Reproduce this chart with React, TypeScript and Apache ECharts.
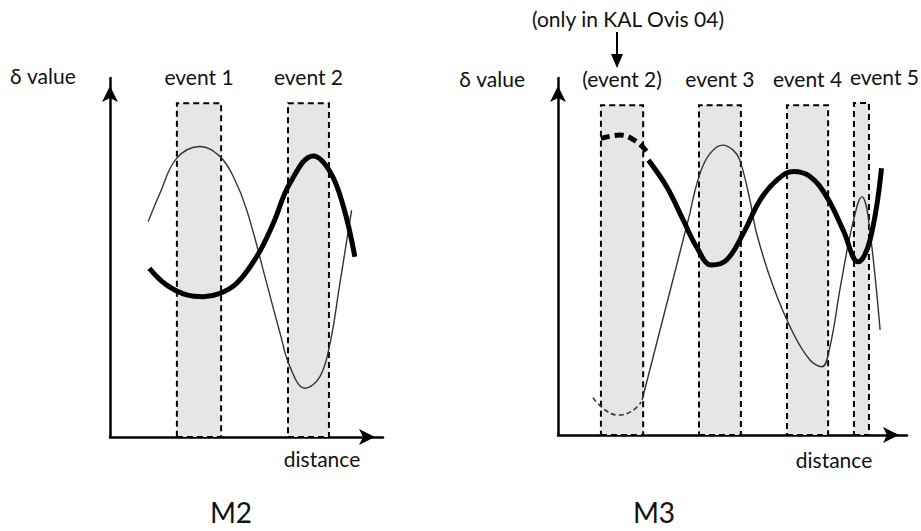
import React, { useEffect, useRef } from "react";
import * as echarts from "echarts";

// ---- Panel M2 (left) ----
const leftThinX = [14.0, 18.3, 24.4, 33.0, 40.3, 45.2, 50.1, 57.4, 62.3, 65.9, 71.4, 76.9, 80.6, 84.2, 88.5];
const leftThinY = [60.0, 67.9, 77.6, 80.9, 78.1, 72.5, 63.2, 42.8, 28.9, 19.6, 13.6, 16.8, 26.1, 42.8, 63.2];
const leftThickX = [14.4, 20.8, 28.1, 34.2, 40.3, 46.4, 53.7, 59.8, 65.9, 74.5, 80.6, 85.5, 89.7];
const leftThickY = [47.0, 42.3, 39.6, 39.1, 40.0, 42.8, 50.2, 59.5, 70.7, 78.3, 73.9, 64.2, 50.2];
const leftEvents = ["event 1", "event 2"];
const leftEventStart = [24.5, 65.2];
const leftEventEnd = [40.7, 80.2];
const leftEventTop = [93, 93];

// ---- Panel M3 (right) ----
const rightThickDashX = [12.3, 17.8, 22.5, 25.4];
const rightThickDashY = [83.1, 84.0, 82.2, 79.4];
const rightThickX = [25.9, 31.1, 35.9, 39.7, 44.0, 48.3, 53.1, 57.9, 62.7, 67.4, 72.2, 77.0, 81.7, 86.0, 89.4, 92.7];
const rightThickY = [77.0, 69.6, 60.2, 52.7, 47.6, 49.0, 56.5, 65.8, 71.4, 73.8, 72.4, 66.7, 57.4, 48.5, 54.6, 74.7];
const rightThinDashX = [10.0, 13.5, 17.2, 21.2, 23.8];
const rightThinDashY = [10.4, 7.0, 5.6, 6.7, 9.2];
const rightThinStraightX = [24.1, 37.8];
const rightThinStraightY = [9.8, 62.1];
const rightThinX = [37.8, 40.7, 43.6, 47.2, 50.2, 52.1, 55.0, 56.9, 61.7, 67.4, 72.2, 75.6, 77.9, 81.0, 84.5, 87.1, 88.8, 92.3];
const rightThinY = [62.1, 73.3, 78.9, 81.2, 79.8, 77.0, 65.8, 56.5, 41.5, 28.5, 21.0, 19.1, 24.6, 42.0, 59.4, 66.7, 61.6, 29.4];
const rightEvents = ["(event 2)", "event 3", "event 4", "event 5"];
const rightEventStart = [12.3, 40.4, 65.6, 84.8];
const rightEventEnd = [24.4, 52.4, 77.4, 89.1];
const rightEventTop = [92.4, 92.4, 92.4, 93.0];

const panelTitles = ["M2", "M3"];
const yName = "δ value";
const xName = "distance";
const note = "(only in KAL Ovis 04)";

const FONT = "Lato, 'Open Sans', sans-serif";
const zip = (xs: number[], ys: number[]) => xs.map((x, i) => [x, ys[i]]);

export default function App() {
  const ref = useRef<HTMLDivElement>(null);
  useEffect(() => {
    if (!ref.current) return;
    const chart = echarts.init(ref.current, undefined, { renderer: "svg" });

    const axisLine = {
      show: true,
      symbol: ["none", "arrow"],
      symbolSize: [12, 16],
      symbolOffset: [0, -8],
      lineStyle: { color: "#000", width: 2.5 },
    };
    const xAxisBase = {
      type: "value",
      min: 0,
      max: 100,
      axisLine,
      axisTick: { show: false },
      axisLabel: { show: false },
      splitLine: { show: false },
    };
    const yAxisBase = { ...xAxisBase };

    const boxes = (names: string[], s: number[], e: number[], top: number[], offsets: number[]) => ({
      silent: true,
      itemStyle: {
        color: "#e6e6e6",
        borderColor: "#000",
        borderWidth: 2,
        borderType: [6, 4],
      },
      label: {
        show: true,
        position: "top",
        distance: 15,
        fontFamily: FONT,
        fontSize: 21,
        color: "#111",
      },
      data: names.map((n, i) => [
        { name: n, xAxis: s[i], yAxis: 0, label: { offset: [offsets[i], 0] } },
        { xAxis: e[i], yAxis: top[i] },
      ]),
    });

    const thin = { color: "#333", width: 1.4 };
    const thick = { color: "#000", width: 5 };

    const line = (xi: number, data: number[][], lineStyle: any, smooth: number | boolean, extra: any = {}) => ({
      type: "line",
      xAxisIndex: xi,
      yAxisIndex: xi,
      data,
      smooth,
      symbol: "none",
      lineStyle,
      silent: true,
      ...extra,
    });

    const textStyle = (text: string, fontSize = 21) => ({
      text,
      fontFamily: FONT,
      fontSize,
      fill: "#111",
    });

    chart.setOption({
      animation: false,
      grid: [
        { left: 110, top: 78, width: 273, height: 359 },
        { left: 558, top: 78, width: 349, height: 357 },
      ],
      xAxis: [
        { ...xAxisBase, gridIndex: 0 },
        { ...xAxisBase, gridIndex: 1 },
      ],
      yAxis: [
        { ...yAxisBase, gridIndex: 0 },
        { ...yAxisBase, gridIndex: 1 },
      ],
      series: [
        line(0, zip(leftThinX, leftThinY), thin, 0.4, {
          markArea: boxes(leftEvents, leftEventStart, leftEventEnd, leftEventTop, [0, 0]),
        }),
        line(0, zip(leftThickX, leftThickY), thick, 0.4),
        line(1, zip(rightThinDashX, rightThinDashY), { ...thin, width: 1.6, type: [5, 3] }, 0.4, {
          markArea: boxes(rightEvents, rightEventStart, rightEventEnd, rightEventTop, [0, 0, 0, 23]),
        }),
        line(1, zip(rightThinStraightX, rightThinStraightY), thin, false),
        line(1, zip(rightThinX, rightThinY), thin, 0.4),
        line(1, zip(rightThickDashX, rightThickDashY), { ...thick, type: [9, 5] }, 0.4),
        line(1, zip(rightThickX, rightThickY), thick, 0.4),
      ],
      graphic: [
        { type: "text", x: 10, y: 75, style: { ...textStyle(yName), textVerticalAlign: "middle" } },
        { type: "text", x: 525, y: 78, style: { ...textStyle(yName), textAlign: "right", textVerticalAlign: "middle" } },
        { type: "text", x: 322, y: 458, style: { ...textStyle(xName), textAlign: "center", textVerticalAlign: "middle" } },
        { type: "text", x: 834, y: 459, style: { ...textStyle(xName), textAlign: "center", textVerticalAlign: "middle" } },
        { type: "text", x: 231, y: 512, style: { ...textStyle(panelTitles[0], 28), textAlign: "center", textVerticalAlign: "middle" } },
        { type: "text", x: 654, y: 512, style: { ...textStyle(panelTitles[1], 28), textAlign: "center", textVerticalAlign: "middle" } },
        { type: "text", x: 628, y: 18, style: { ...textStyle(note), textAlign: "center", textVerticalAlign: "middle" } },
        { type: "line", shape: { x1: 617, y1: 32, x2: 617, y2: 58 }, style: { stroke: "#000", lineWidth: 2 } },
        { type: "polygon", shape: { points: [[611, 54], [623, 54], [617, 68]] }, style: { fill: "#000" } },
      ],
    });
    return () => chart.dispose();
  }, []);
  return (
    <div
      ref={ref}
      style={{ position: "fixed", left: 0, top: 0, width: 921, height: 531, background: "#fff" }}
    />
  );
}
